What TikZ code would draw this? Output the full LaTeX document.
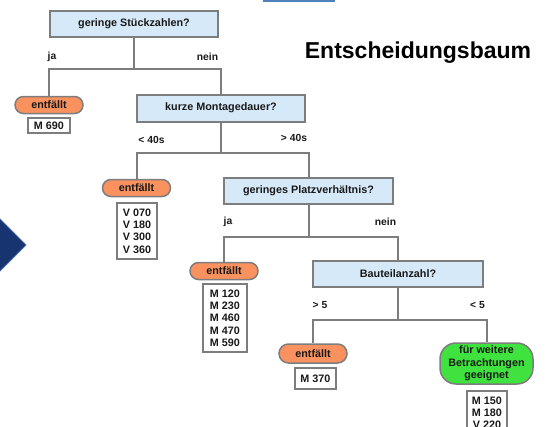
\documentclass[tikz,border=0pt]{standalone}
\usepackage{fontspec}
\setmainfont{Liberation Sans}
\definecolor{qfill}{RGB}{214,233,248}
\definecolor{lgray}{RGB}{125,125,125}
\definecolor{orng}{RGB}{250,146,96}
\definecolor{grn}{RGB}{64,226,64}
\definecolor{navy}{RGB}{24,52,112}
\definecolor{navyedge}{RGB}{70,110,165}
\definecolor{steel}{RGB}{79,129,189}
\definecolor{txt}{RGB}{25,25,25}
\tikzset{
  x=1pt, y=-1pt,
  every node/.style={text=txt, font=\bfseries\fontsize{10.8}{12.3}\selectfont, inner sep=0pt},
  qbox/.style={draw=lgray, line width=2pt, fill=qfill, minimum height=26pt},
  pill/.style={draw=lgray, line width=1.5pt, fill=orng, rounded corners=8.5pt, minimum width=68pt, minimum height=17pt},
  gpill/.style={draw=lgray, line width=1.5pt, fill=grn, rounded corners=16pt, minimum width=93pt, minimum height=41pt, align=center},
  lbox/.style={draw=lgray, line width=1.8pt, fill=white, align=center},
  conn/.style={draw=lgray, line width=2pt},
  lbl/.style={font=\bfseries\fontsize{10.3}{12}\selectfont}
}
\begin{document}
\begin{tikzpicture}
\useasboundingbox (0,0) rectangle (549,426);
% decorative cropped elements
\fill[steel] (263,0) rectangle (335,1.6);
\draw[navyedge, line width=1pt, fill=navy] (-2,217) -- (26,245) -- (-2,273) -- cycle;

% title
\node[anchor=base, font=\bfseries\fontsize{23}{26}\selectfont, text=black] (title) at (418,58.5) {Entscheidungsbaum};

% decision boxes
\node[qbox, minimum width=168pt] (q1) at (134,24) {geringe Stückzahlen?};
\node[qbox, minimum width=168pt, minimum height=27pt] (q2) at (221,108) {kurze Montagedauer?};
\node[qbox, minimum width=169pt] (q3) at (308.5,191) {geringes Platzverhältnis?};
\node[qbox, minimum width=170pt] (q4) at (398,274) {Bauteilanzahl?};

% outcome pills
\node[pill] (p1) at (49,105) {entfällt};
\node[pill] (p2) at (136.5,188) {entfällt};
\node[pill] (p3) at (224,271) {entfällt};
\node[pill, minimum height=19pt, rounded corners=9.5pt] (p4) at (313,353.5) {entfällt};
\node[gpill] (g) at (486.5,363.5) {für weitere\\Betrachtungen\\geeignet};

% lists
\node[lbox, minimum width=42pt, minimum height=15pt] (b1) at (49,125.5) {M 690};
\node[lbox, minimum width=40pt, minimum height=56pt] (b2) at (137,231) {V 070\\V 180\\V 300\\V 360};
\node[lbox, minimum width=44pt, minimum height=68pt] (b3) at (225,318) {M 120\\M 230\\M 460\\M 470\\M 590};
\node[lbox, minimum width=41pt, minimum height=21pt] (b4) at (315.5,378.5) {M 370};
\node[lbox, minimum width=40pt, minimum height=44pt, anchor=north] (b5) at (487,390) {M 150\\M 180\\V 220};

% connectors
\draw[conn] (q1.south) -- ++(0,31) -| (p1.north);
\draw[conn] (q1.south) -- ++(0,31) -| (q2.north);
\draw[conn] (q2.south) -- ++(0,30) -| (p2.north);
\draw[conn] (q2.south) -- ++(0,30) -| (q3.north);
\draw[conn] (q3.south) -- ++(0,32) -| (p3.north);
\draw[conn] (q3.south) -- ++(0,32) -| (q4.north);
\draw[conn] (q4.south) -- ++(0,32) -| (p4.north);
\draw[conn] (q4.south) -- ++(0,32) -| (g.north);

% branch labels
\node[lbl] (l1) at (52,57) {ja};
\node[lbl] (l2) at (207.5,57) {nein};
\node[lbl] (l3) at (151.5,140) {< 40s};
\node[lbl] (l4) at (294,138) {> 40s};
\node[lbl] (l5) at (228,222) {ja};
\node[lbl] (l6) at (385.5,222) {nein};
\node[lbl] (l7) at (320,305) {> 5};
\node[lbl] (l8) at (477.5,305) {< 5};
\end{tikzpicture}
\end{document}
